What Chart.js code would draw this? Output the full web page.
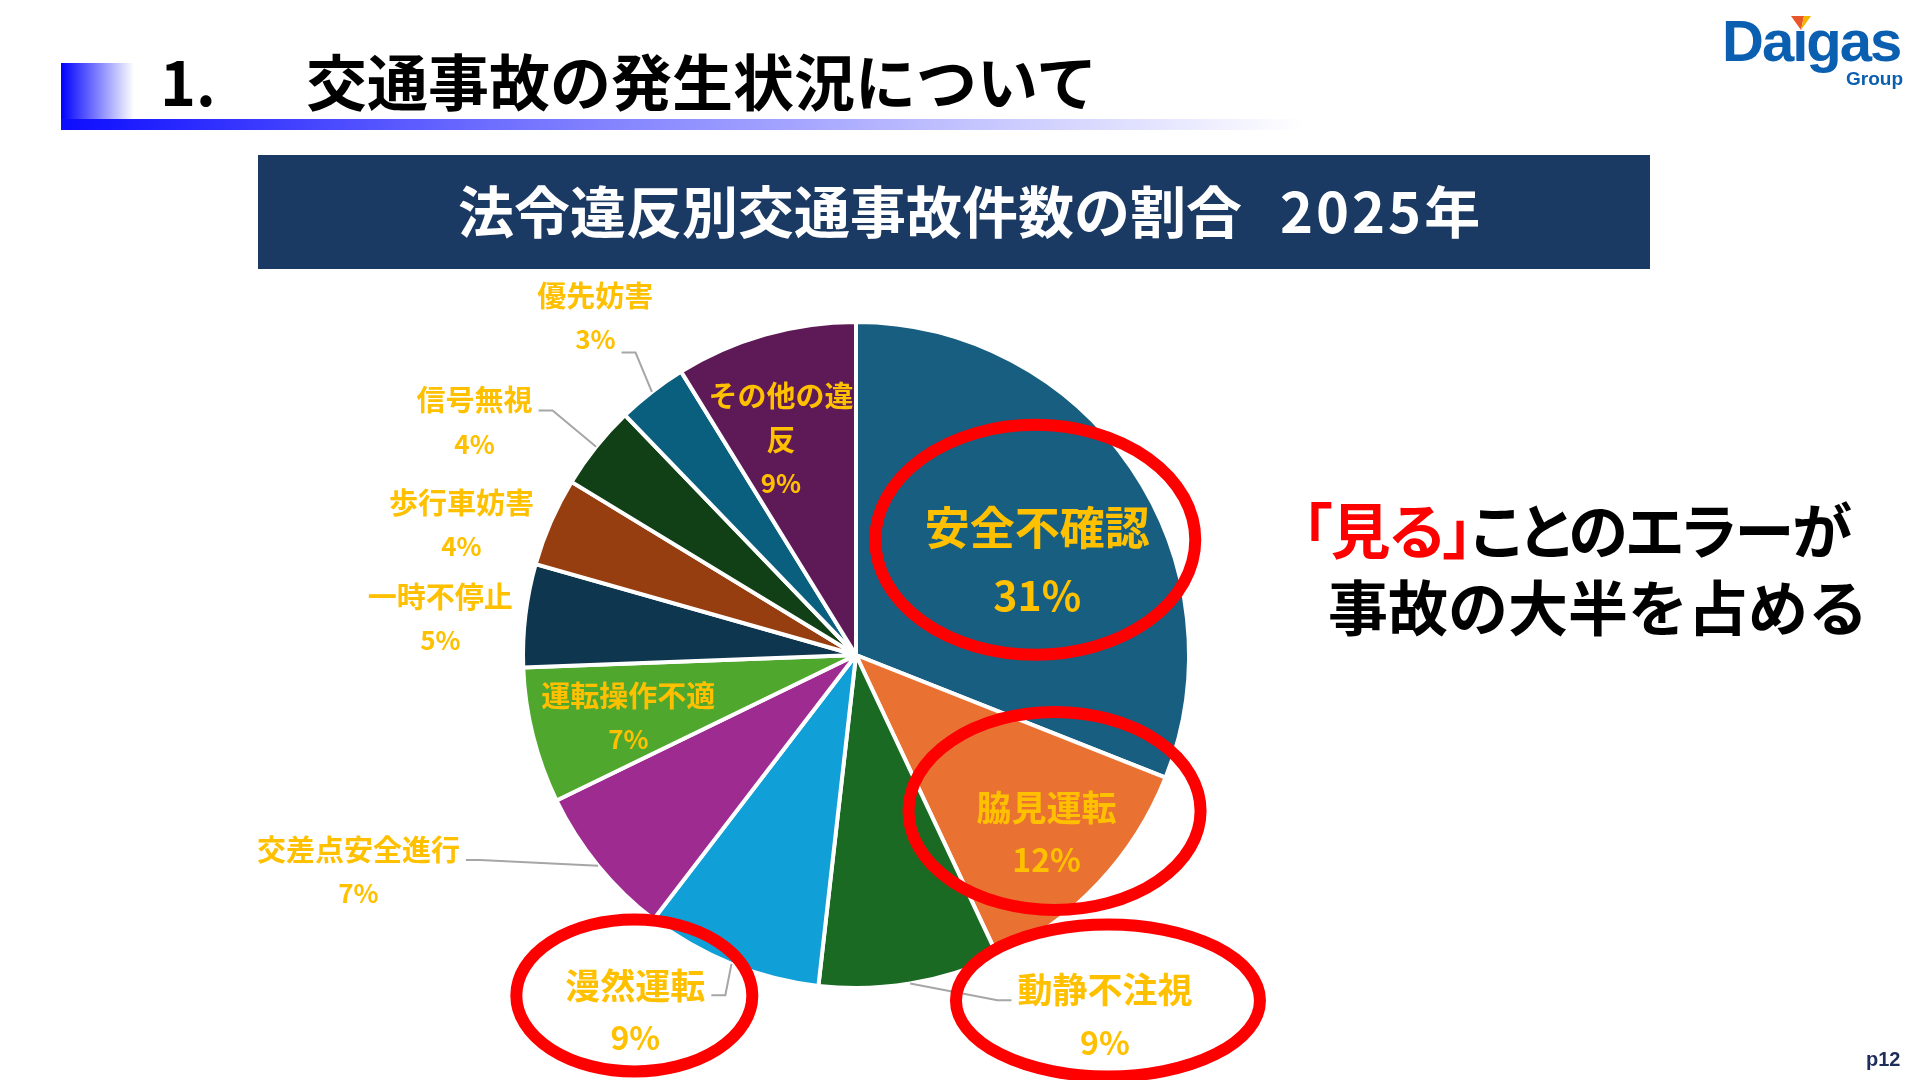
<!DOCTYPE html>
<html lang="ja">
<head>
<meta charset="utf-8">
<title>法令違反別交通事故件数の割合 2025年</title>
<script src="https://cdn.jsdelivr.net/npm/chart.js@4.4.1/dist/chart.umd.min.js"></script>
<style>
  html, body { margin: 0; padding: 0; background: #fff; }
  body {
    width: 1910px; height: 1080px; position: relative; overflow: hidden;
    font-family: "Noto Sans CJK JP", "Noto Sans", sans-serif;
  }
  #pieChart { position: absolute; left: 0; top: 0; }
  .abs { position: absolute; white-space: nowrap; }
  .hdrBlock { left: 61px; top: 63px; width: 73px; height: 67px;
    background: linear-gradient(to right, #0000ff, #ffffff); }
  .hdrBar { left: 61px; top: 119px; width: 1243px; height: 11px;
    background: linear-gradient(to right, #0d0dff 0%, #6f6fff 35%, #ffffff 100%); }
  .hdrTitle { top: 44px; font-size: 61px; font-weight: 700; color: #000; line-height: 72px; }
  .navyBox { left: 258px; top: 155px; width: 1392px; height: 114px; background: #1b3a63; }
  .boxTitle { left: 458px; top: 175px; font-size: 56px; font-weight: 700; color: #fff; line-height: 68px; }
  .boxTitle .yr { margin-left: 38px; letter-spacing: 3px; }
  .msg { font-size: 60px; font-weight: 700; color: #000; line-height: 72px; }
  .msg .red { color: #ff0000; }
  .logo { left: 1722px; top: 6px; font-family: "Liberation Sans", Arial, sans-serif;
    font-weight: 700; font-size: 58px; letter-spacing: -2px; color: #0b5fb0; line-height: 70px; }
  .group { left: 1846px; top: 68px; font-family: "Liberation Sans", Arial, sans-serif;
    font-weight: 700; font-size: 19px; color: #0b5fb0; line-height: 22px; }
  .page { left: 1866px; top: 1048px; font-family: "Liberation Sans", Arial, sans-serif;
    font-weight: 700; font-size: 20px; color: #1f2d5a; }
</style>
</head>
<body>
<canvas id="pieChart" width="1910" height="1080"></canvas>

<div class="abs hdrBlock"></div>
<div class="abs hdrBar"></div>
<div class="abs hdrTitle" style="left:160px">1.</div>
<div class="abs hdrTitle" style="left:306px">交通事故の発生状況について</div>

<div class="abs navyBox"></div>
<div class="abs boxTitle">法令違反別交通事故件数の割合<span class="yr">2025</span>年</div>

<div class="abs msg" style="left:1302px; top:492px; font-feature-settings:'palt'; letter-spacing:-1.5px;"><span class="red">「見る」</span>ことのエラーが</div>
<div class="abs msg" style="left:1328px; top:569px;">事故の大半を占める</div>

<div class="abs logo">Daıgas</div>
<svg class="abs" style="left:0; top:0;" width="1910" height="40">
  <polygon points="1791,16 1804,16 1801,30" fill="#e9562a"/>
  <polygon points="1804,16 1811,16 1801,30" fill="#f5b400"/>
</svg>
<div class="abs group">Group</div>
<div class="abs page">p12</div>

<script>
// 違反別の件数割合（%）
const categories = ["安全不確認", "脇見運転", "動静不注視", "漫然運転", "交差点安全進行",
  "運転操作不適", "一時不停止", "歩行車妨害", "信号無視", "優先妨害", "その他の違反"];
const shares = [31.0, 12.0, 8.8, 8.6, 7.4, 6.6, 5.0, 4.3, 4.1, 3.4, 8.8];
const sliceColors = ["#175e80", "#e97233", "#1b6a24", "#109fd6", "#9e2b90",
  "#4fa72e", "#0e374f", "#973e10", "#113f16", "#0a5e7e", "#5e1a56"];

// ラベル配置（円の中心からの距離 = 半径比, 角度補正 deg）
const labelStyle = [
  { r: 0.612, da: 7.0, size: 45, ring: { dx: -2, dy: -22, rx: 160, ry: 115 } },
  { r: 0.785, da: 0.0, size: 35, ring: { dx: 8, dy: -23, rx: 146, ry: 99 } },
  { r: 1.318, da: -25.2, size: 35, leader: "name", ring: { dx: 3, dy: -16, rx: 152, ry: 76 } },
  { r: 1.259, da: 9.8, size: 35, leader: "name", ring: { dx: -1, dy: -16, rx: 118, ry: 76 } },
  { r: 1.63, da: 15.7, size: 29, leader: "name" },
  { r: 0.709, da: -1.3, size: 29 },
  { r: 1.253, da: -1.8, size: 29 },
  { r: 1.248, da: -5.3, size: 29 },
  { r: 1.342, da: -7.3, size: 29, leader: "name" },
  { r: 1.28, da: 0.1, size: 29, leader: "pct" },
  { r: 0.684, da: -3.4, size: 29, wrap: 5 }
];

const labelColor = "#ffc000";
const leaderColor = "#a6a6a6";
const ringColor = "#ff0000";

// ラベル・引き出し線・赤丸を描くプラグイン
const pieLabels = {
  id: "pieLabels",
  afterDatasetsDraw(chart) {
    const ctx = chart.ctx;
    const arcs = chart.getDatasetMeta(0).data;
    ctx.save();
    arcs.forEach((arc, i) => {
      const st = labelStyle[i];
      const mid = (arc.startAngle + arc.endAngle) / 2;
      const a = mid + st.da * Math.PI / 180;
      const R = arc.outerRadius;
      const cx = arc.x + Math.cos(a) * R * st.r;
      const cy = arc.y + Math.sin(a) * R * st.r;

      const name = categories[i];
      const lines = st.wrap ? [name.slice(0, st.wrap), name.slice(st.wrap)] : [name];
      lines.push(Math.round(shares[i]) + "%");
      const lh = st.size * 1.5;
      const y0 = cy - (lines.length - 1) * lh / 2;

      ctx.fillStyle = labelColor;
      ctx.textAlign = "center";
      ctx.textBaseline = "middle";
      const widths = [];
      lines.forEach((t, k) => {
        const isPct = k === lines.length - 1;
        const fs = isPct ? Math.round(st.size * 0.9) : st.size;
        ctx.font = `bold ${fs}px "Noto Sans CJK JP", "Noto Sans", sans-serif`;
        widths.push(ctx.measureText(t).width);
        ctx.fillText(t, cx, y0 + k * lh);
      });

      if (st.leader) {
        const k = st.leader === "pct" ? lines.length - 1 : 0;
        const w = widths[k];
        const left = cx < arc.x;
        const ex = left ? cx + w / 2 + 6 : cx - w / 2 - 6;
        const ey = y0 + k * lh + (st.leader === "pct" ? 13 : 10);
        const bx = left ? ex + 14 : ex - 14;
        const sx = arc.x + Math.cos(mid) * R;
        const sy = arc.y + Math.sin(mid) * R;
        ctx.strokeStyle = leaderColor;
        ctx.lineWidth = 2;
        ctx.beginPath();
        ctx.moveTo(sx, sy);
        ctx.lineTo(bx, ey);
        ctx.lineTo(ex, ey);
        ctx.stroke();
      }

      if (st.ring) {
        ctx.strokeStyle = ringColor;
        ctx.lineWidth = 12;
        ctx.beginPath();
        ctx.ellipse(cx + st.ring.dx, cy + st.ring.dy, st.ring.rx, st.ring.ry, 0, 0, Math.PI * 2);
        ctx.stroke();
      }
    });
    ctx.restore();
  }
};

new Chart(document.getElementById("pieChart"), {
  type: "pie",
  data: {
    labels: categories,
    datasets: [{
      data: shares,
      backgroundColor: sliceColors,
      borderColor: "#ffffff",
      borderWidth: 4
    }]
  },
  options: {
    responsive: false,
    animation: false,
    radius: 333,
    layout: { padding: { left: 0, right: 198, top: 230, bottom: 0 } },
    plugins: {
      legend: { display: false },
      tooltip: { enabled: false }
    }
  },
  plugins: [pieLabels]
});
</script>
</body>
</html>
